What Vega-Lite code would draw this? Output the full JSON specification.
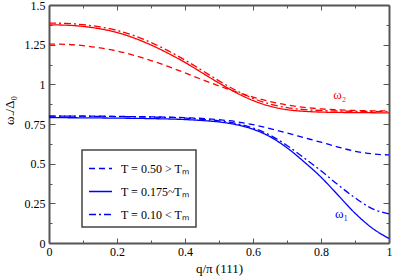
{
  "$schema": "https://vega.github.io/schema/vega-lite/v6.json",
  "width": 340,
  "height": 238,
  "autosize": {"type": "none"},
  "padding": {"left": 49, "top": 5, "right": 6, "bottom": 34},
  "background": "white",
  "config": {
    "view": {"stroke": null},
    "font": "'Liberation Serif', 'Times New Roman', serif",
    "axis": {
      "labelFont": "'Liberation Serif', 'Times New Roman', serif", "titleFont": "'Liberation Serif', 'Times New Roman', serif",
      "labelFontSize": 12, "titleFontSize": 13, "titleFontWeight": "normal",
      "labelColor": "black", "titleColor": "black",
      "domainColor": "#555", "domainWidth": 2, "tickColor": "#555", "tickWidth": 1,
      "grid": false, "labelOverlap": false, "labelFlush": false
    },
    "legend": {"strokeWidth": 1.5}
  },
  "datasets": {
    "curves": [
      {"b": "omega2", "T": "T = 0.175~Tₘ", "q": 0, "v": 1.375},
      {"b": "omega2", "T": "T = 0.175~Tₘ", "q": 0.05, "v": 1.373},
      {"b": "omega2", "T": "T = 0.175~Tₘ", "q": 0.1, "v": 1.365},
      {"b": "omega2", "T": "T = 0.175~Tₘ", "q": 0.15, "v": 1.35},
      {"b": "omega2", "T": "T = 0.175~Tₘ", "q": 0.2, "v": 1.327},
      {"b": "omega2", "T": "T = 0.175~Tₘ", "q": 0.25, "v": 1.292},
      {"b": "omega2", "T": "T = 0.175~Tₘ", "q": 0.3, "v": 1.248},
      {"b": "omega2", "T": "T = 0.175~Tₘ", "q": 0.35, "v": 1.196},
      {"b": "omega2", "T": "T = 0.175~Tₘ", "q": 0.4, "v": 1.138},
      {"b": "omega2", "T": "T = 0.175~Tₘ", "q": 0.45, "v": 1.073},
      {"b": "omega2", "T": "T = 0.175~Tₘ", "q": 0.5, "v": 1.008},
      {"b": "omega2", "T": "T = 0.175~Tₘ", "q": 0.55, "v": 0.948},
      {"b": "omega2", "T": "T = 0.175~Tₘ", "q": 0.6, "v": 0.898},
      {"b": "omega2", "T": "T = 0.175~Tₘ", "q": 0.65, "v": 0.862},
      {"b": "omega2", "T": "T = 0.175~Tₘ", "q": 0.7, "v": 0.84},
      {"b": "omega2", "T": "T = 0.175~Tₘ", "q": 0.75, "v": 0.83},
      {"b": "omega2", "T": "T = 0.175~Tₘ", "q": 0.8, "v": 0.825},
      {"b": "omega2", "T": "T = 0.175~Tₘ", "q": 0.85, "v": 0.823},
      {"b": "omega2", "T": "T = 0.175~Tₘ", "q": 0.9, "v": 0.822},
      {"b": "omega2", "T": "T = 0.175~Tₘ", "q": 0.95, "v": 0.821},
      {"b": "omega2", "T": "T = 0.175~Tₘ", "q": 1, "v": 0.82},

      {"b": "omega2", "T": "T = 0.10 < Tₘ", "q": 0, "v": 1.386},
      {"b": "omega2", "T": "T = 0.10 < Tₘ", "q": 0.05, "v": 1.384},
      {"b": "omega2", "T": "T = 0.10 < Tₘ", "q": 0.1, "v": 1.376},
      {"b": "omega2", "T": "T = 0.10 < Tₘ", "q": 0.15, "v": 1.362},
      {"b": "omega2", "T": "T = 0.10 < Tₘ", "q": 0.2, "v": 1.34},
      {"b": "omega2", "T": "T = 0.10 < Tₘ", "q": 0.25, "v": 1.307},
      {"b": "omega2", "T": "T = 0.10 < Tₘ", "q": 0.3, "v": 1.264},
      {"b": "omega2", "T": "T = 0.10 < Tₘ", "q": 0.35, "v": 1.212},
      {"b": "omega2", "T": "T = 0.10 < Tₘ", "q": 0.4, "v": 1.153},
      {"b": "omega2", "T": "T = 0.10 < Tₘ", "q": 0.45, "v": 1.088},
      {"b": "omega2", "T": "T = 0.10 < Tₘ", "q": 0.5, "v": 1.022},
      {"b": "omega2", "T": "T = 0.10 < Tₘ", "q": 0.55, "v": 0.962},
      {"b": "omega2", "T": "T = 0.10 < Tₘ", "q": 0.6, "v": 0.912},
      {"b": "omega2", "T": "T = 0.10 < Tₘ", "q": 0.65, "v": 0.876},
      {"b": "omega2", "T": "T = 0.10 < Tₘ", "q": 0.7, "v": 0.853},
      {"b": "omega2", "T": "T = 0.10 < Tₘ", "q": 0.75, "v": 0.841},
      {"b": "omega2", "T": "T = 0.10 < Tₘ", "q": 0.8, "v": 0.835},
      {"b": "omega2", "T": "T = 0.10 < Tₘ", "q": 0.85, "v": 0.832},
      {"b": "omega2", "T": "T = 0.10 < Tₘ", "q": 0.9, "v": 0.83},
      {"b": "omega2", "T": "T = 0.10 < Tₘ", "q": 0.95, "v": 0.829},
      {"b": "omega2", "T": "T = 0.10 < Tₘ", "q": 1, "v": 0.828},

      {"b": "omega2", "T": "T = 0.50 > Tₘ", "q": 0, "v": 1.254},
      {"b": "omega2", "T": "T = 0.50 > Tₘ", "q": 0.05, "v": 1.252},
      {"b": "omega2", "T": "T = 0.50 > Tₘ", "q": 0.1, "v": 1.244},
      {"b": "omega2", "T": "T = 0.50 > Tₘ", "q": 0.15, "v": 1.23},
      {"b": "omega2", "T": "T = 0.50 > Tₘ", "q": 0.2, "v": 1.21},
      {"b": "omega2", "T": "T = 0.50 > Tₘ", "q": 0.25, "v": 1.183},
      {"b": "omega2", "T": "T = 0.50 > Tₘ", "q": 0.3, "v": 1.15},
      {"b": "omega2", "T": "T = 0.50 > Tₘ", "q": 0.35, "v": 1.113},
      {"b": "omega2", "T": "T = 0.50 > Tₘ", "q": 0.4, "v": 1.072},
      {"b": "omega2", "T": "T = 0.50 > Tₘ", "q": 0.45, "v": 1.03},
      {"b": "omega2", "T": "T = 0.50 > Tₘ", "q": 0.5, "v": 0.99},
      {"b": "omega2", "T": "T = 0.50 > Tₘ", "q": 0.55, "v": 0.953},
      {"b": "omega2", "T": "T = 0.50 > Tₘ", "q": 0.6, "v": 0.92},
      {"b": "omega2", "T": "T = 0.50 > Tₘ", "q": 0.65, "v": 0.892},
      {"b": "omega2", "T": "T = 0.50 > Tₘ", "q": 0.7, "v": 0.87},
      {"b": "omega2", "T": "T = 0.50 > Tₘ", "q": 0.75, "v": 0.855},
      {"b": "omega2", "T": "T = 0.50 > Tₘ", "q": 0.8, "v": 0.845},
      {"b": "omega2", "T": "T = 0.50 > Tₘ", "q": 0.85, "v": 0.839},
      {"b": "omega2", "T": "T = 0.50 > Tₘ", "q": 0.9, "v": 0.835},
      {"b": "omega2", "T": "T = 0.50 > Tₘ", "q": 0.95, "v": 0.833},
      {"b": "omega2", "T": "T = 0.50 > Tₘ", "q": 1, "v": 0.832},

      {"b": "omega1", "T": "T = 0.175~Tₘ", "q": 0, "v": 0.79},
      {"b": "omega1", "T": "T = 0.175~Tₘ", "q": 0.1, "v": 0.789},
      {"b": "omega1", "T": "T = 0.175~Tₘ", "q": 0.2, "v": 0.787},
      {"b": "omega1", "T": "T = 0.175~Tₘ", "q": 0.3, "v": 0.784},
      {"b": "omega1", "T": "T = 0.175~Tₘ", "q": 0.4, "v": 0.778},
      {"b": "omega1", "T": "T = 0.175~Tₘ", "q": 0.45, "v": 0.772},
      {"b": "omega1", "T": "T = 0.175~Tₘ", "q": 0.5, "v": 0.763},
      {"b": "omega1", "T": "T = 0.175~Tₘ", "q": 0.55, "v": 0.746},
      {"b": "omega1", "T": "T = 0.175~Tₘ", "q": 0.6, "v": 0.717},
      {"b": "omega1", "T": "T = 0.175~Tₘ", "q": 0.65, "v": 0.670},
      {"b": "omega1", "T": "T = 0.175~Tₘ", "q": 0.7, "v": 0.6},
      {"b": "omega1", "T": "T = 0.175~Tₘ", "q": 0.75, "v": 0.512},
      {"b": "omega1", "T": "T = 0.175~Tₘ", "q": 0.8, "v": 0.415},
      {"b": "omega1", "T": "T = 0.175~Tₘ", "q": 0.85, "v": 0.302},
      {"b": "omega1", "T": "T = 0.175~Tₘ", "q": 0.9, "v": 0.188},
      {"b": "omega1", "T": "T = 0.175~Tₘ", "q": 0.95, "v": 0.095},
      {"b": "omega1", "T": "T = 0.175~Tₘ", "q": 1, "v": 0.028},

      {"b": "omega1", "T": "T = 0.10 < Tₘ", "q": 0, "v": 0.8},
      {"b": "omega1", "T": "T = 0.10 < Tₘ", "q": 0.1, "v": 0.799},
      {"b": "omega1", "T": "T = 0.10 < Tₘ", "q": 0.2, "v": 0.797},
      {"b": "omega1", "T": "T = 0.10 < Tₘ", "q": 0.3, "v": 0.794},
      {"b": "omega1", "T": "T = 0.10 < Tₘ", "q": 0.4, "v": 0.787},
      {"b": "omega1", "T": "T = 0.10 < Tₘ", "q": 0.45, "v": 0.780},
      {"b": "omega1", "T": "T = 0.10 < Tₘ", "q": 0.5, "v": 0.770},
      {"b": "omega1", "T": "T = 0.10 < Tₘ", "q": 0.55, "v": 0.753},
      {"b": "omega1", "T": "T = 0.10 < Tₘ", "q": 0.6, "v": 0.725},
      {"b": "omega1", "T": "T = 0.10 < Tₘ", "q": 0.65, "v": 0.680},
      {"b": "omega1", "T": "T = 0.10 < Tₘ", "q": 0.7, "v": 0.615},
      {"b": "omega1", "T": "T = 0.10 < Tₘ", "q": 0.75, "v": 0.537},
      {"b": "omega1", "T": "T = 0.10 < Tₘ", "q": 0.8, "v": 0.455},
      {"b": "omega1", "T": "T = 0.10 < Tₘ", "q": 0.85, "v": 0.367},
      {"b": "omega1", "T": "T = 0.10 < Tₘ", "q": 0.9, "v": 0.285},
      {"b": "omega1", "T": "T = 0.10 < Tₘ", "q": 0.95, "v": 0.217},
      {"b": "omega1", "T": "T = 0.10 < Tₘ", "q": 1, "v": 0.183},

      {"b": "omega1", "T": "T = 0.50 > Tₘ", "q": 0, "v": 0.8},
      {"b": "omega1", "T": "T = 0.50 > Tₘ", "q": 0.1, "v": 0.8},
      {"b": "omega1", "T": "T = 0.50 > Tₘ", "q": 0.2, "v": 0.798},
      {"b": "omega1", "T": "T = 0.50 > Tₘ", "q": 0.3, "v": 0.795},
      {"b": "omega1", "T": "T = 0.50 > Tₘ", "q": 0.4, "v": 0.79},
      {"b": "omega1", "T": "T = 0.50 > Tₘ", "q": 0.45, "v": 0.785},
      {"b": "omega1", "T": "T = 0.50 > Tₘ", "q": 0.5, "v": 0.777},
      {"b": "omega1", "T": "T = 0.50 > Tₘ", "q": 0.55, "v": 0.765},
      {"b": "omega1", "T": "T = 0.50 > Tₘ", "q": 0.6, "v": 0.746},
      {"b": "omega1", "T": "T = 0.50 > Tₘ", "q": 0.65, "v": 0.721},
      {"b": "omega1", "T": "T = 0.50 > Tₘ", "q": 0.7, "v": 0.693},
      {"b": "omega1", "T": "T = 0.50 > Tₘ", "q": 0.75, "v": 0.664},
      {"b": "omega1", "T": "T = 0.50 > Tₘ", "q": 0.8, "v": 0.635},
      {"b": "omega1", "T": "T = 0.50 > Tₘ", "q": 0.85, "v": 0.605},
      {"b": "omega1", "T": "T = 0.50 > Tₘ", "q": 0.9, "v": 0.578},
      {"b": "omega1", "T": "T = 0.50 > Tₘ", "q": 0.95, "v": 0.562},
      {"b": "omega1", "T": "T = 0.50 > Tₘ", "q": 1, "v": 0.555}
    ],
    "notes": [
      {"b": "omega2", "label": "ω₂", "q": 0.836, "v": 0.907},
      {"b": "omega1", "label": "ω₁", "q": 0.841, "v": 0.158}
    ]
  },
  "layer": [
    {
      "data": {"name": "curves"},
      "mark": {"type": "line", "strokeWidth": 1.3, "interpolate": "monotone"},
      "encoding": {
        "x": {
          "field": "q", "type": "quantitative",
          "scale": {"domain": [0, 1], "nice": false, "zero": false},
          "axis": {
            "orient": "bottom",
            "values": [0, 0.1, 0.2, 0.3, 0.4, 0.5, 0.6, 0.7, 0.8, 0.9, 1],
            "labelExpr": "round(datum.value*10)%2==1 ? '' : '' + datum.value",
            "tickSize": {"condition": {"test": "round(datum.value*10)%2==1", "value": -3}, "value": -5},
            "labelPadding": 8,
            "title": "q/π (111)",
            "titlePadding": 3
          }
        },
        "y": {
          "field": "v", "type": "quantitative",
          "scale": {"domain": [0, 1.5], "nice": false, "zero": false},
          "axis": {
            "orient": "left",
            "values": [0, 0.125, 0.25, 0.375, 0.5, 0.625, 0.75, 0.875, 1, 1.125, 1.25, 1.375, 1.5],
            "labelExpr": "round(datum.value*8)%2==1 ? '' : '' + datum.value",
            "tickSize": {"condition": {"test": "round(datum.value*8)%2==1", "value": -3}, "value": -6},
            "labelPadding": 10,
            "title": "ω₋/Δ₀",
            "titlePadding": 8,
            "titleY": 105
          }
        },
        "color": {
          "field": "b", "type": "nominal",
          "scale": {"domain": ["omega2", "omega1"], "range": ["#ff0000", "#0000ff"]},
          "legend": null
        },
        "strokeDash": {
          "field": "T", "type": "nominal",
          "scale": {
            "domain": ["T = 0.50 > Tₘ", "T = 0.175~Tₘ", "T = 0.10 < Tₘ"],
            "range": [[6, 4], [1, 0], [7, 3, 2, 3]]
          },
          "legend": {
            "title": null,
            "orient": "none",
            "legendX": 33,
            "legendY": 145,
            "strokeColor": "#444",
            "fillColor": "white",
            "padding": 6,
            "symbolType": "stroke",
            "symbolSize": 529,
            "symbolStrokeWidth": 1.3,
            "symbolStrokeColor": "#0000ff",
            "labelFont": "'Liberation Serif', 'Times New Roman', serif",
            "labelFontSize": 12,
            "labelColor": "black",
            "labelOffset": 8,
            "rowPadding": 4,
            "labelLimit": 0
          }
        }
      }
    },
    {
      "data": {"name": "notes"},
      "mark": {"type": "text", "font": "'Liberation Serif', 'Times New Roman', serif", "fontSize": 13, "align": "left", "baseline": "alphabetic"},
      "encoding": {
        "x": {
          "field": "q", "type": "quantitative",
          "scale": {"domain": [0, 1], "nice": false, "zero": false},
          "axis": {
            "orient": "top",
            "values": [0, 0.1, 0.2, 0.3, 0.4, 0.5, 0.6, 0.7, 0.8, 0.9, 1],
            "labels": false,
            "title": null,
            "tickSize": {"condition": {"test": "round(datum.value*10)%2==1", "value": -3}, "value": -5}
          }
        },
        "y": {
          "field": "v", "type": "quantitative",
          "scale": {"domain": [0, 1.5], "nice": false, "zero": false},
          "axis": {
            "orient": "right",
            "values": [0, 0.125, 0.25, 0.375, 0.5, 0.625, 0.75, 0.875, 1, 1.125, 1.25, 1.375, 1.5],
            "labels": false,
            "title": null,
            "tickSize": {"condition": {"test": "round(datum.value*8)%2==1", "value": -3}, "value": -6}
          }
        },
        "text": {"field": "label"},
        "color": {
          "field": "b", "type": "nominal",
          "scale": {"domain": ["omega2", "omega1"], "range": ["#ff0000", "#0000ff"]},
          "legend": null
        }
      }
    }
  ],
  "resolve": {"axis": {"x": "independent", "y": "independent"}}
}
